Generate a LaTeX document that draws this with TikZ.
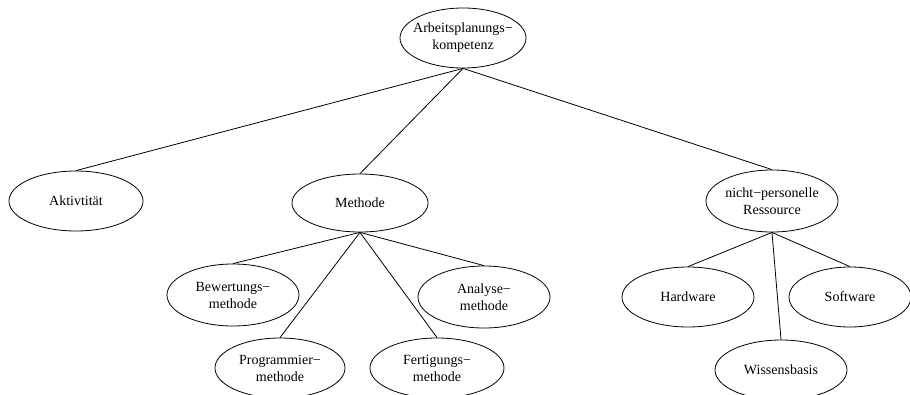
\documentclass[tikz,border=0pt]{standalone}
\usepackage{fontspec}
\setmainfont{Liberation Serif}
\usetikzlibrary{shapes.geometric}
\tikzset{
  term/.style args={#1/#2}{ellipse, draw, line width=0.8pt, inner sep=0pt,
    minimum width=#1pt, minimum height=#2pt},
  txt/.style={font=\fontsize{14}{17}\selectfont, align=center},
  link/.style={line width=0.8pt}
}
\begin{document}
\begin{tikzpicture}[x=1pt, y=-1pt]
\useasboundingbox (0,0) rectangle (910,394);
\clip (0,0) rectangle (910,394);

% ellipses with centred text
\node[term=126/60, label={[txt]center:Arbeitsplanungs−\\kompetenz}] (root) at (463,38) {};
\node[term=134/60, label={[txt]center:Aktivtität}] (akt) at (76,201) {};
\node[term=136/58, label={[txt]center:Methode}] (meth) at (360,203) {};
\node[term=132/62, label={[txt]center:nicht−personelle\\Ressource}] (nps) at (772,201) {};
\node[term=132/62, label={[txt]center:Bewertungs−\\methode}] (bew) at (233,295) {};
\node[term=132/62, label={[txt]center:Analyse−\\methode}] (ana) at (484,297) {};
\node[term=130/60, label={[txt]center:Programmier−\\methode}] (prog) at (280,368) {};
\node[term=134/60, label={[txt]center:Fertigungs−\\methode}] (fert) at (437,368) {};
\node[term=132/60, label={[txt]center:Hardware}] (hw) at (688,297) {};
\node[term=122/60, label={[txt]center:Software}] (sw) at (850,297) {};
\node[term=132/60, label={[txt]center:Wissensbasis}] (wiss) at (781,370) {};

% tree edges, bottom of parent to top of child
\foreach \p/\c in {root/akt, root/meth, root/nps,
                   meth/bew, meth/ana, meth/prog, meth/fert,
                   nps/hw, nps/sw, nps/wiss}
  \draw[link] (\p.south) -- (\c.north);
\end{tikzpicture}
\end{document}
